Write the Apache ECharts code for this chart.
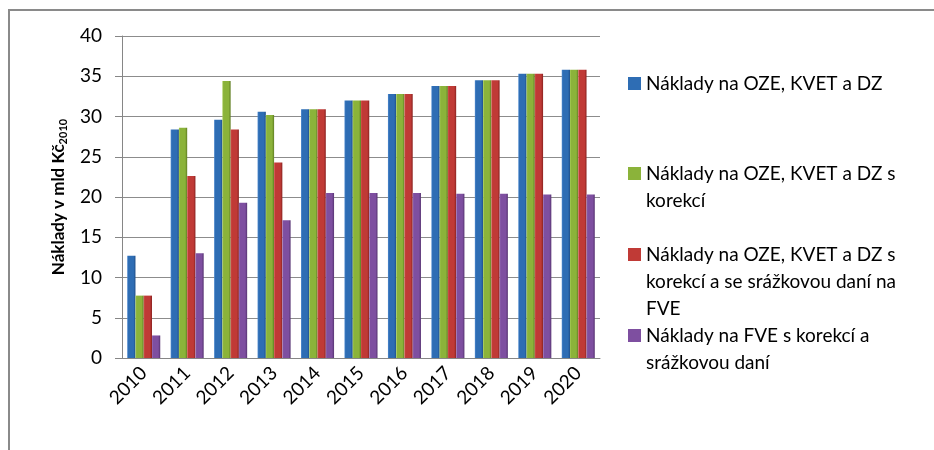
<!DOCTYPE html>
<html lang="cs">
<head>
<meta charset="UTF-8">
<title>Náklady na OZE</title>
<script src="https://cdn.jsdelivr.net/npm/echarts@6/dist/echarts.min.js"></script>
<style>
    html, body { margin: 0; padding: 0; background: #fff; }
    #container { width: 934px; height: 450px; }
</style>
</head>
<body>
<div id="container"></div>
<script type="text/javascript">
    // data
    var years = ['2010','2011','2012','2013','2014','2015','2016','2017','2018','2019','2020'];
    var names = [
        'Náklady na OZE, KVET a DZ',
        'Náklady na OZE, KVET a DZ s\nkorekcí',
        'Náklady na OZE, KVET a DZ s\nkorekcí a se srážkovou daní na\nFVE',
        'Náklady na FVE s korekcí a\nsrážkovou daní'
    ];
    var naklady = [12.7, 28.4, 29.6, 30.6, 30.9, 32.0, 32.8, 33.8, 34.5, 35.3, 35.8];
    var sKorekci = [7.75, 28.6, 34.4, 30.2, 30.9, 32.0, 32.8, 33.8, 34.5, 35.3, 35.8];
    var sKorekciDan = [7.75, 22.6, 28.4, 24.3, 30.9, 32.0, 32.8, 33.8, 34.5, 35.3, 35.8];
    var fve = [2.8, 13.0, 19.3, 17.1, 20.5, 20.5, 20.5, 20.4, 20.4, 20.3, 20.3];
    var yTicks = [0, 5, 10, 15, 20, 25, 30, 35, 40];

    // barvy (svetla, stredni, tmava)
    var colors = [
        ['#4f8ad0', '#2e6db4', '#1f4f8a'],
        ['#a6cc55', '#8bb33a', '#5f7d22'],
        ['#d65450', '#c03a36', '#8a2220'],
        ['#9870b8', '#7e4fa0', '#573472']
    ];
    function grad(c) {
        return new echarts.graphic.LinearGradient(0, 0, 1, 0, [
            { offset: 0, color: c[0] },
            { offset: 0.15, color: c[1] },
            { offset: 0.75, color: c[1] },
            { offset: 1, color: c[2] }
        ]);
    }

    var font = 'Lato, "Open Sans", sans-serif';
    var dataSets = [naklady, sKorekci, sKorekciDan, fve];
    var legendTops = [70, 160, 241, 322];
    var lineH = 27;

    var series = dataSets.map(function (d, i) {
        return {
            name: names[i],
            type: 'bar',
            data: d,
            barGap: '0%',
            barCategoryGap: '24%',
            itemStyle: { color: grad(colors[i]) }
        };
    });

    // legenda: prvni radek v legende, dalsi radky jako text pod nim
    var legends = names.map(function (n, i) {
        return {
            data: [{ name: n, icon: 'rect', itemStyle: { color: colors[i][1] } }],
            left: 628,
            top: legendTops[i],
            padding: 0,
            itemWidth: 13,
            itemHeight: 13,
            itemGap: 0,
            selectedMode: false,
            formatter: function (name) { return name.split('\n')[0]; },
            textStyle: { fontFamily: font, fontSize: 19, color: '#000', lineHeight: lineH }
        };
    });

    var graphics = [{
        type: 'polyline',
        shape: { points: [[9, 450], [9, 10], [934, 10]] },
        style: { stroke: '#8a8a8a', lineWidth: 2, fill: null }
    }];
    names.forEach(function (n, i) {
        n.split('\n').slice(1).forEach(function (line, j) {
            graphics.push({
                type: 'text',
                left: 646,
                top: legendTops[i] + lineH * (j + 1),
                style: { text: line, font: '19px ' + font, fill: '#000', lineHeight: lineH }
            });
        });
    });

    var chart = echarts.init(document.getElementById('container'), null, { renderer: 'canvas' });
    chart.setOption({
        animation: false,
        legend: legends,
        grid: { left: 122, right: 334, top: 36, bottom: 92 },
        graphic: graphics,
        xAxis: {
            type: 'category',
            data: years,
            axisLine: { lineStyle: { color: '#868686' } },
            axisTick: { length: 6, lineStyle: { color: '#868686' } },
            axisLabel: { rotate: 45, fontFamily: font, fontSize: 19, color: '#000', margin: 12 }
        },
        yAxis: {
            type: 'value',
            min: yTicks[0],
            max: yTicks[yTicks.length - 1],
            interval: 5,
            name: '{a|Náklady v mld Kč}{s|2010}',
            nameLocation: 'middle',
            nameGap: 52,
            nameTextStyle: {
                rich: {
                    a: { fontFamily: font, fontSize: 17, fontWeight: 'bold', color: '#000', lineHeight: 22 },
                    s: { fontFamily: font, fontSize: 11, fontWeight: 'bold', color: '#000', lineHeight: 22, padding: [9, 0, 0, 0] }
                }
            },
            axisLine: { show: true, lineStyle: { color: '#868686' } },
            axisTick: { show: true, length: 7, lineStyle: { color: '#868686' } },
            axisLabel: { fontFamily: font, fontSize: 19, color: '#000', margin: 20 },
            splitLine: { lineStyle: { color: '#8c8c8c' } }
        },
        series: series
    });
    window.addEventListener('resize', chart.resize);
</script>
</body>
</html>
